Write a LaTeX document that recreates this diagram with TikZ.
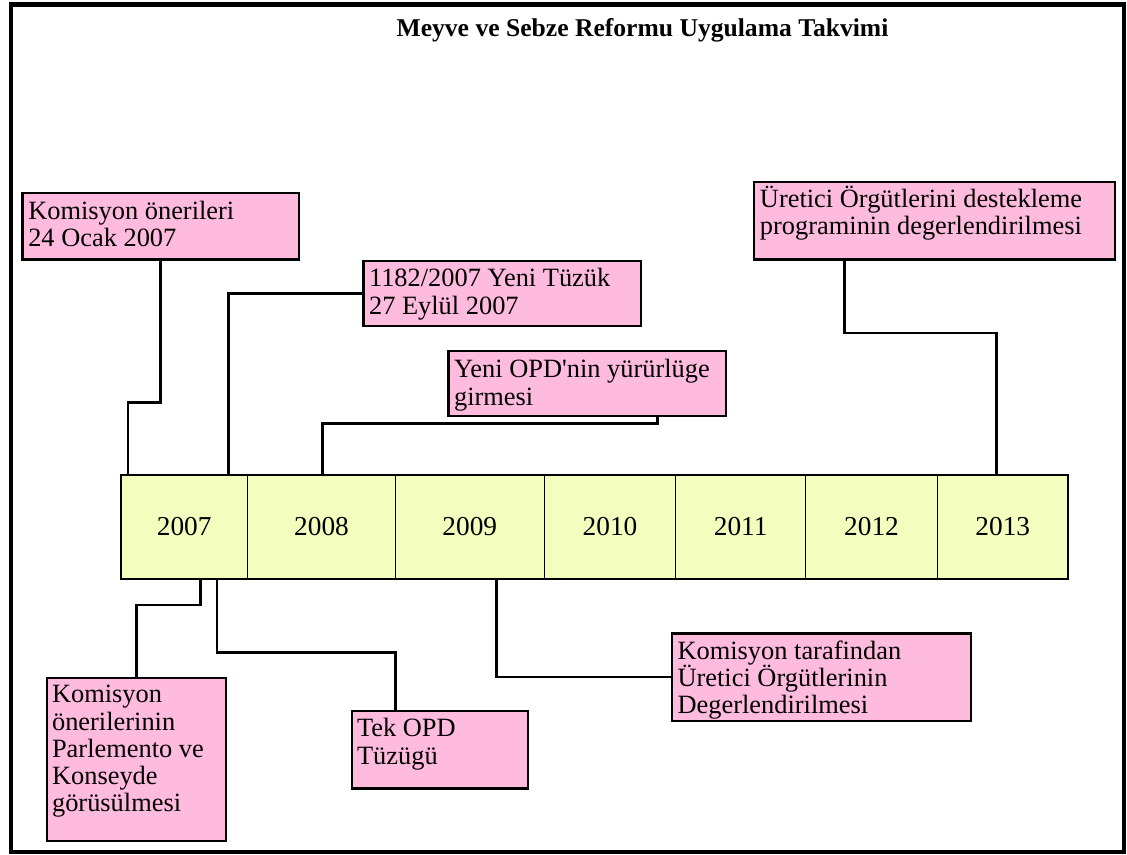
\documentclass[tikz,border=0pt]{standalone}
\usepackage{fontspec}
\setmainfont{Liberation Serif}
\usetikzlibrary{calc}
\newdimen\pxu \pxu=0.75pt
\definecolor{boxpink}{HTML}{FFBBDD}
\definecolor{yearfill}{HTML}{F3FDBD}
\newcommand\tstrut{\rule{0pt}{18pt}}
\tikzset{
  evbox/.style={draw=black, line width=1.8pt, fill=boxpink, anchor=north west, inner sep=0pt, outer sep=0pt},
  evtext/.style={anchor=north west, inner sep=0pt, align=left, font={\fontsize{19.8pt}{20.4pt}\selectfont}},
  yearcell/.style={draw=black, line width=1pt, fill=yearfill, anchor=north west, inner sep=0pt, outer sep=0pt, minimum height=104\pxu, font={\fontsize{20.5pt}{22pt}\selectfont}},
  conn/.style={line width=2pt, line join=miter},
  titletext/.style={anchor=base, inner sep=0pt, font={\fontsize{19.2pt}{22pt}\selectfont\bfseries}},
}
\begin{document}
\begin{tikzpicture}[x=0.75pt, y=-0.75pt]
\useasboundingbox (0,0) rectangle (1127,854);
% frame
\draw[line width=3.4pt] (10.8,4.5) rectangle (1124,852);
% title
\node[titletext] (title) at (642.5,36.7) {Meyve ve Sebze Reformu Uygulama Takvimi};

% year bar
\node[yearcell, minimum width=127\pxu]   (y2007) at (120.7,475) {2007};
\node[yearcell, minimum width=147.6\pxu] (y2008) at (y2007.north east) {2008};
\node[yearcell, minimum width=149\pxu]   (y2009) at (y2008.north east) {2009};
\node[yearcell, minimum width=131.4\pxu] (y2010) at (y2009.north east) {2010};
\node[yearcell, minimum width=129.9\pxu] (y2011) at (y2010.north east) {2011};
\node[yearcell, minimum width=131.9\pxu] (y2012) at (y2011.north east) {2012};
\node[yearcell, minimum width=130.5\pxu] (y2013) at (y2012.north east) {2013};
\draw[line width=1.6pt] (y2007.north west) rectangle (y2013.south east);

% event boxes
\node[evbox, minimum width=276.5\pxu, minimum height=66.5\pxu] (b1) at (22.5,193) {};
\node[evtext] (b1t) at ($(b1.north west)+(5.5,2)$) {\tstrut Komisyon önerileri\\24 Ocak 2007};

\node[evbox, minimum width=277.7\pxu, minimum height=65.3\pxu] (b2) at (363.3,260.7) {};
\node[evtext] (b2t) at ($(b2.north west)+(5.5,2)$) {\tstrut 1182/2007 Yeni Tüzük\\27 Eylül 2007};

\node[evbox, minimum width=277.7\pxu, minimum height=65.3\pxu] (b3) at (448.3,350.7) {};
\node[evtext] (b3t) at ($(b3.north west)+(5.5,3)$) {\tstrut Yeni OPD\textquotesingle nin yürürlüge\\girmesi};

\node[evbox, minimum width=361\pxu, minimum height=77.5\pxu] (b4) at (754.2,182) {};
\node[evtext] (b4t) at ($(b4.north west)+(5.5,1)$) {\tstrut Üretici Örgütlerini destekleme\\programinin degerlendirilmesi};

\node[evbox, minimum width=179.2\pxu, minimum height=163\pxu] (b5) at (46.8,677.7) {};
\node[evtext] (b5t) at ($(b5.north west)+(5,1)$) {\tstrut Komisyon\\önerilerinin\\Parlemento ve\\Konseyde\\görüsülmesi};

\node[evbox, minimum width=176\pxu, minimum height=77.6\pxu] (b6) at (351.8,710.7) {};
\node[evtext] (b6t) at ($(b6.north west)+(5,2)$) {\tstrut Tek OPD\\Tüzügü};

\node[evbox, minimum width=299.4\pxu, minimum height=87.7\pxu] (b7) at (671.8,633.3) {};
\node[evtext] (b7t) at ($(b7.north west)+(5.5,2)$) {\tstrut Komisyon tarafindan\\Üretici Örgütlerinin\\Degerlendirilmesi};

% connector points
\coordinate (j1) at (128,402.7);
\coordinate (t2) at (228.5,475);
\coordinate (s3) at (657.6,416);
\coordinate (j3) at (322.6,423.3);
\coordinate (s4) at (844.6,259.5);
\coordinate (j4) at (996.7,333);
\coordinate (u5) at (200.4,579);
\coordinate (j5) at (136.4,605);
\coordinate (u6) at (217,579);
\coordinate (j6) at (395.4,652.7);
\coordinate (u7) at (496.5,579);

% connectors above
\draw[conn] (b1.south) |- (j1) -- (j1 |- y2007.north);
\draw[conn] (b2.west) -| (t2);
\draw[conn] (s3) |- (j3) -- (j3 |- y2008.north);
\draw[conn] (s4) |- (j4) -- (j4 |- y2013.north);
% connectors below
\draw[conn] (u5) |- (j5) -- (b5.north);
\draw[conn] (u6) |- (j6) -- (j6 |- b6.north);
\draw[conn] (u7) |- (b7.west);
\end{tikzpicture}
\end{document}
